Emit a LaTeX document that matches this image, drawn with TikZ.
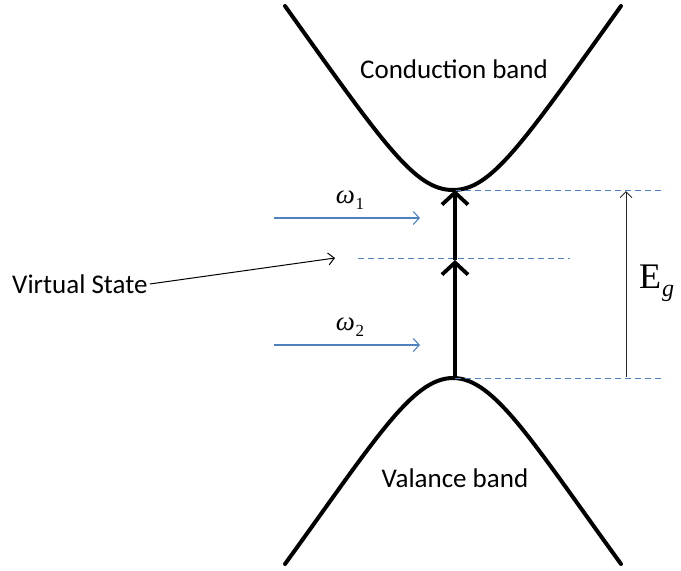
\documentclass[tikz,border=0pt]{standalone}
\usepackage{fontspec}
\setmainfont{Carlito}
\newfontfamily\tserif{Liberation Serif}
\usetikzlibrary{arrows.meta}
\definecolor{dblue}{RGB}{79,129,189}
\definecolor{lgray}{RGB}{40,40,40}
\begin{document}
\begin{tikzpicture}[x=1pt,y=-1pt,
  band/.style={line width=4pt, line cap=round},
  thickarr/.style={line width=3.8pt, -{Straight Barb[length=12pt,width=26pt,line width=3.8pt]}},
  lvl/.style={dblue, line width=0.9pt, dash pattern=on 6pt off 4pt},
  beam/.style={dblue, line width=1.1pt, -{Straight Barb[length=6pt,width=13pt,line width=1.1pt]}},
  thinarr/.style={lgray, line width=1pt, -{Straight Barb[length=6pt,width=12pt,line width=1pt]}},
  lbl/.style={font=\fontsize{27}{30}\selectfont, inner sep=0pt},
  omg/.style={font=\tserif\fontsize{27}{29}\selectfont, inner sep=0pt}]
\useasboundingbox (0,0) rectangle (681,571);
% bands
\draw[band] (285,6) .. controls (385,146) and (415,190) .. (453,190)
  .. controls (491,190) and (521,146) .. (621,6);
\draw[band] (285,564) .. controls (375,440) and (412,378) .. (453,378)
  .. controls (494,378) and (531,440) .. (621,564);
% key points
\coordinate (cb) at (455,190);
\coordinate (vb) at (455,378);
\coordinate (vs) at (455,260);
\coordinate (t1) at (665,190);
\coordinate (t2) at (665,378);
\coordinate (m1) at (358,258);
\coordinate (m2) at (570,258);
% levels
\draw[lvl] (cb) -- (t1);
\draw[lvl] (vb) -- (t2);
\draw[lvl] (m1) -- (m2);
% transitions
\draw[thickarr] (vb) -- (vs);
\draw[thickarr] (vs) -- (cb);
% Eg
\coordinate (e1) at (626,191);
\coordinate (e2) at (626,377);
\draw[thinarr, {Straight Barb[length=6pt,width=12pt,line width=1pt]}-] (e1) -- (e2);
\node[inner sep=0pt, anchor=west] (eg) at (639,283) {\tserif\fontsize{36}{38}\selectfont E\kern1pt\raisebox{-8pt}{\fontsize{24}{26}\selectfont\itshape g}};
% photons
\coordinate (a1) at (274,218);
\coordinate (b1) at (420,218);
\coordinate (a2) at (274,345);
\coordinate (b2) at (420,345);
\draw[beam] (a1) -- (b1);
\draw[beam] (a2) -- (b2);
\node[omg] (w1) at (350,200) {\itshape ω\kern0.5pt\raisebox{-6pt}{\upshape\fontsize{17}{19}\selectfont 1}};
\node[omg] (w2) at (350,327) {\itshape ω\kern0.5pt\raisebox{-6pt}{\upshape\fontsize{17}{19}\selectfont 2}};
% labels
\node[lbl] (cbl) at (454,69) {Conduction band};
\node[lbl] (vbl) at (455,478) {Valance band};
\node[lbl, anchor=west] (vsl) at (12,284) {Virtual State};
\coordinate (vst) at (335,258);
\draw[thinarr, black] (vsl.east) ++(2,0) -- (vst);
\end{tikzpicture}
\end{document}
